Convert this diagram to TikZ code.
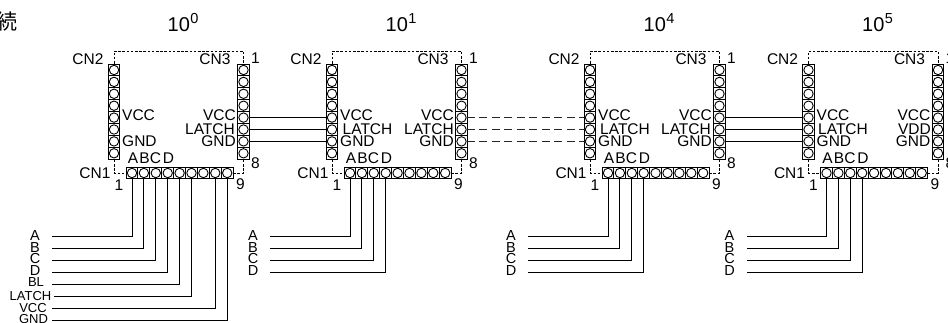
\documentclass[tikz,border=0pt]{standalone}
\usepackage{fontspec}
\setmainfont{Liberation Sans}
\newfontfamily\cjkfont{Noto Sans CJK JP}
\newcommand{\fsz}[1]{\fontsize{#1}{#1}\selectfont}
\tikzset{
  cell/.style={draw=black,line width=1pt,rectangle,minimum width=11.9pt,minimum height=11.9pt,inner sep=0pt},
  pin/.style={draw=black,line width=0.9pt,circle,minimum size=9.4pt,inner sep=0pt},
  wire/.style={draw=black,line width=1pt},
  dashwire/.style={draw=black!85,line width=1pt,dash pattern=on 8pt off 4.5pt},
  frame/.style={draw=black,line width=0.6pt,dash pattern=on 2.6pt off 1.6pt},
  lab/.style={inner sep=0pt,font=\fsz{15.5}},
  small/.style={inner sep=0pt,font=\fsz{13}},
  mid/.style={inner sep=0pt,font=\fsz{14.5}},
  power/.style={inner sep=0pt,font=\fsz{20}}
}
\newcommand{\onemodule}[3]{%
\begin{scope}[shift={(#2,0)},name prefix=#1-]
  \foreach \i in {1,...,8}{
    \node[cell] (l\i) at (114,{70+(\i-1)*11.9}) {};
    \node[pin]  (l\i c) at (l\i) {};
    \node[cell] (r\i) at (243.5,{70+(\i-1)*11.9}) {};
    \node[pin]  (r\i c) at (r\i) {};
  }
  \foreach \i in {1,...,9}{
    \node[cell] (b\i) at ({132+(\i-1)*11.9},173) {};
    \node[pin]  (b\i c) at (b\i) {};
  }
  \coordinate (tl) at (114,51);
  \coordinate (tr) at (243.5,51);
  \coordinate (bl) at (114,173);
  \coordinate (br) at (243.5,173);
  \draw[frame] (l1.north) -- (tl) -- (tr) -- (r1.north);
  \draw[frame] (l8.south) -- (bl) -- (b1.west);
  \draw[frame] (r8.south) -- (br) -- (b9.east);
  \node[lab] (cntwo) at (88,59) {CN2};
  \node[lab] (cnthree) at (215,59) {CN3};
  \node[lab] (cnone) at (95,173) {CN1};
  \node[lab] (ntop) at (255.5,58) {1};
  \node[lab] (nbot) at (255.5,163.5) {8};
  \node[lab] (none) at (119,185) {1};
  \node[lab] (nnine) at (240.5,184.5) {9};
  \node[lab,anchor=base west] (lvcc) at (122,120.5) {VCC};
  \node[lab,anchor=base west] (lgnd) at (122,146.5) {GND};
  \node[lab,anchor=base east] (rvcc) at (236,120.5) {VCC};
  \node[lab,anchor=base east] (rgnd) at (236,146.5) {GND};
  \node[lab,anchor=base] (tA) at (133,164) {A};
  \node[lab,anchor=base] (tB) at (144.5,164) {B};
  \node[lab,anchor=base] (tC) at (155.5,164) {C};
  \node[lab,anchor=base] (tD) at (168.5,164) {D};
  \node[power,anchor=base west] (pw) at (167.5,32) {10\hspace{0.5pt}\raisebox{8pt}{\fsz{14.5}#3}};
  \node[mid,anchor=base] (wa) at (35,241) {A};
  \node[mid,anchor=base] (wb) at (35,252.5) {B};
  \node[mid,anchor=base] (wc) at (35,264) {C};
  \node[mid,anchor=base] (wd) at (35,276) {D};
  \coordinate (sa) at (52,236.7);
  \coordinate (sb) at (52,248.7);
  \coordinate (sc) at (52,260.7);
  \coordinate (sd) at (52,272.5);
  \draw[wire] (b1c) |- (sa);
  \draw[wire] (b2c) |- (sb);
  \draw[wire] (b3c) |- (sc);
  \draw[wire] (b4c) |- (sd);
\end{scope}}
\newcommand{\bus}[4][wire]{%
  \draw[#1] (#2-r5c) -- (#3-l5c);
  \draw[#1] (#2-r6c) -- (#3-l6c);
  \draw[#1] (#2-r7c) -- (#3-l7c);}
\begin{document}
\begin{tikzpicture}[x=1pt,y=-1pt]
  \useasboundingbox (0,0) rectangle (948,323);
  \node[inner sep=0pt,font=\cjkfont\fsz{21},anchor=east] (title) at (17.5,22) {続};
  \onemodule{a}{0}{0}
  \onemodule{b}{218}{1}
  \onemodule{c}{476}{4}
  \onemodule{d}{694.5}{5}
  % middle-row labels
  \node[lab,anchor=base east] (aL) at (235,134.5) {LATCH};
  \node[lab,anchor=base west] (bLl) at (342.5,134.5) {LATCH};
  \node[lab,anchor=base east] (bLr) at (454,134.5) {LATCH};
  \node[lab,anchor=base west] (cLl) at (600,134.5) {LATCH};
  \node[lab,anchor=base east] (cLr) at (711,134.5) {LATCH};
  \node[lab,anchor=base west] (dLl) at (818,134.5) {LATCH};
  \node[lab,anchor=base east] (dLr) at (931,134.5) {VDD};
  % buses
  \bus{a}{b}{}
  \bus[dashwire]{b}{c}{}
  \bus{c}{d}{}
  % extra lines of the first module
  \node[small,anchor=base] (we) at (36,287) {BL};
  \node[small,anchor=base] (wf) at (30.5,300.5) {LATCH};
  \node[small,anchor=base] (wg) at (33,312) {VCC};
  \node[small,anchor=base] (wh) at (33.5,323.5) {GND};
  \coordinate (se) at (52,284.2);
  \coordinate (sf) at (53.5,296.5);
  \coordinate (sg) at (52,308.2);
  \coordinate (sh) at (52,320);
  \draw[wire] (a-b5c) |- (se);
  \draw[wire] (a-b6c) |- (sf);
  \draw[wire] (a-b8c) |- (sg);
  \draw[wire] (a-b9c) |- (sh);
\end{tikzpicture}
\end{document}
